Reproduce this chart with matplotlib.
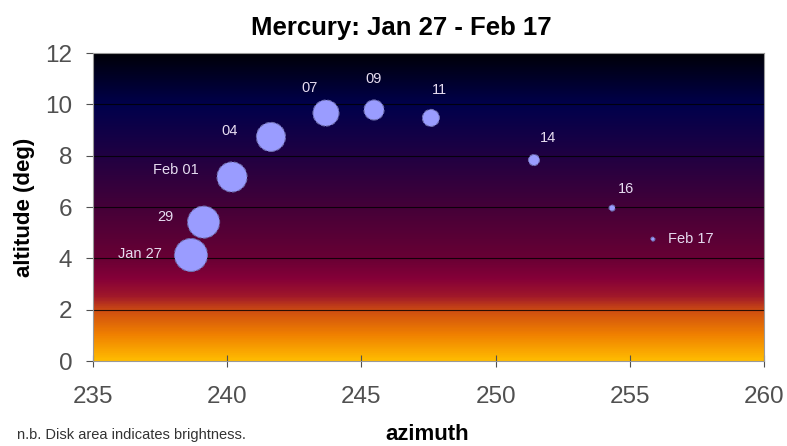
import numpy as np
import matplotlib
matplotlib.use("Agg")
import matplotlib.pyplot as plt
from matplotlib.colors import LinearSegmentedColormap

plt.rcParams["font.family"] = ["Liberation Sans", "DejaVu Sans"]

# data
labels = ["Jan 27", "29", "Feb 01", "04", "07", "09", "11", "14", "16", "Feb 17"]
azimuth = [238.65, 239.12, 240.18, 241.63, 243.68, 245.47, 247.59, 251.43, 254.34, 255.86]
altitude = [4.13, 5.41, 7.17, 8.73, 9.66, 9.78, 9.47, 7.83, 5.96, 4.75]
disk_diam = [33, 32, 30, 29, 26, 20, 17, 11, 6, 4]   # px; area = brightness

# label offsets (points) relative to each disk
offsets = [(-21, 1), (-22, 4), (-24, 5), (-24, 4), (-12, 18), (0, 22), (6, 20), (10, 16), (10, 14), (11, 0)]
aligns = ["right", "right", "right", "right", "center", "center", "center", "center", "center", "left"]

sky = LinearSegmentedColormap.from_list("sky", [
    (0.0, "#ffbb00"), (1 / 12, "#f08000"), (1.9 / 12, "#d05010"), (2.5 / 12, "#a0182a"),
    (3.2 / 12, "#850038"), (4 / 12, "#680034"), (6 / 12, "#440038"), (8 / 12, "#200042"),
    (10 / 12, "#00004c"), (1.0, "#000008")])

fig = plt.figure(figsize=(7.87, 4.46), dpi=100)
ax = fig.add_axes([93 / 787, 1 - 361 / 446, 671 / 787, 308 / 446])

grad = np.linspace(0, 1, 400).reshape(-1, 1)
ax.imshow(grad, cmap=sky, origin="lower", aspect="auto",
          extent=[235, 260, 0, 12], zorder=0)
for yv in [2, 4, 6, 8, 10]:
    ax.axhline(yv, color="black", lw=0.8, alpha=0.8, zorder=1)

s = [(d * 0.72) ** 2 for d in disk_diam]
ax.scatter(azimuth, altitude, s=s, color="#9a9cff", edgecolors="#7070b0",
           linewidths=0.8, linestyles="--", zorder=3)
for lab, x, y, off, ha in zip(labels, azimuth, altitude, offsets, aligns):
    ax.annotate(lab, (x, y), xytext=off, textcoords="offset points",
                ha=ha, va="center", color="#e6dcf0", fontsize=10.5, zorder=4)

ax.set_xlim(235, 260)
ax.set_ylim(0, 12)
ax.set_xticks([235, 240, 245, 250, 255, 260])
ax.set_yticks([0, 2, 4, 6, 8, 10, 12])
ax.tick_params(axis="x", direction="inout", length=8, labelsize=17.5, colors="#505050", pad=14)
ax.tick_params(axis="y", direction="out", length=5, labelsize=17.5, colors="#505050", pad=10)
for sp in ax.spines.values():
    sp.set_color("#999999")

ax.set_ylabel("altitude (deg)", fontsize=16, fontweight="bold", labelpad=7)
fig.text(427 / 787, 1 - 435 / 446, "azimuth", ha="center", va="center",
         fontsize=16, fontweight="bold")
fig.text(401 / 787, 1 - 28 / 446, "Mercury: Jan 27 - Feb 17", ha="center", va="center",
         fontsize=18.5, fontweight="bold")
fig.text(17 / 787, 1 - 435 / 446, "n.b. Disk area indicates brightness.", ha="left",
         va="center", fontsize=10.5, color="#333333")

fig.savefig("out.png", dpi=100, facecolor="white")
